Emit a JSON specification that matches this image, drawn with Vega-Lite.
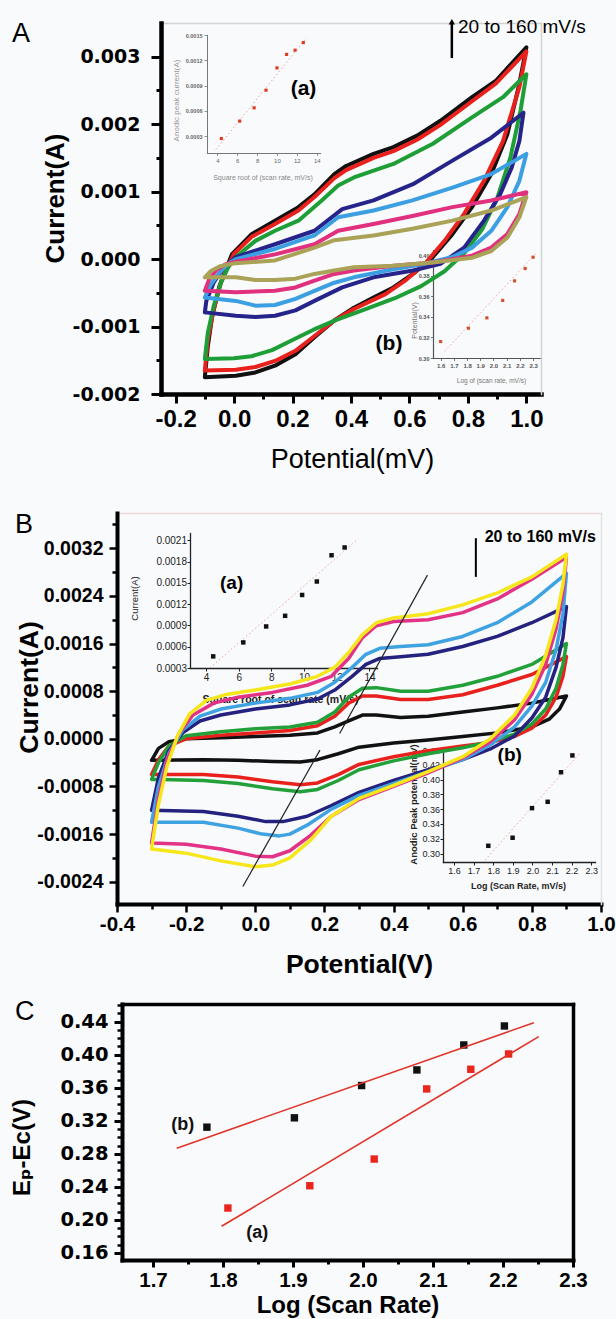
{
"$schema":"https://vega.github.io/schema/vega-lite/v6.json",
"width":616,"height":1319,"padding":0,"autosize":{"type":"none"},
"background":"#f9fafc",
"config":{"view":{"stroke":null},"font":"Liberation Sans",
 "axis":{"grid":false,"labelFlush":false,"labelOverlap":false,"domainCap":"square","domainColor":"#000","tickColor":"#000","labelColor":"#000","titleColor":"#000","labelFont":"Liberation Sans","titleFont":"Liberation Sans","titleBaseline":"alphabetic","titleAlign":"center","labelFontWeight":"normal","titleFontWeight":"bold"}},
"datasets":{
"cvA":[
{"c":"k","x":-0.1,"y":-0.00175},{"c":"k","x":-0.09,"y":-0.0013},{"c":"k","x":-0.075,"y":-0.00085},{"c":"k","x":-0.05,"y":-0.0004},{"c":"k","x":-0.025,"y":-0.00012},{"c":"k","x":-0.007,"y":0.000075},{"c":"k","x":0.06,"y":0.00037},{"c":"k","x":0.14,"y":0.00057},{"c":"k","x":0.22,"y":0.00077},{"c":"k","x":0.275,"y":0.00096},{"c":"k","x":0.343,"y":0.00126},{"c":"k","x":0.383,"y":0.00138},{"c":"k","x":0.477,"y":0.00156},{"c":"k","x":0.545,"y":0.00166},{"c":"k","x":0.626,"y":0.00183},{"c":"k","x":0.706,"y":0.00205},{"c":"k","x":0.814,"y":0.0024},{"c":"k","x":0.895,"y":0.00264},{"c":"k","x":1.0,"y":0.00314},{"c":"k","x":0.976,"y":0.0026},{"c":"k","x":0.935,"y":0.00185},{"c":"k","x":0.88,"y":0.00126},{"c":"k","x":0.814,"y":0.00077},{"c":"k","x":0.747,"y":0.00037},{"c":"k","x":0.68,"y":0.00003},{"c":"k","x":0.612,"y":-0.00022},{"c":"k","x":0.545,"y":-0.00042},{"c":"k","x":0.477,"y":-0.00057},{"c":"k","x":0.41,"y":-0.00072},{"c":"k","x":0.343,"y":-0.00091},{"c":"k","x":0.275,"y":-0.00116},{"c":"k","x":0.21,"y":-0.00141},{"c":"k","x":0.14,"y":-0.00158},{"c":"k","x":0.073,"y":-0.00168},{"c":"k","x":0.006,"y":-0.00173},{"c":"k","x":-0.1,"y":-0.00175},
{"c":"r","x":-0.1,"y":-0.00165},{"c":"r","x":-0.09,"y":-0.0012},{"c":"r","x":-0.07,"y":-0.00075},{"c":"r","x":-0.045,"y":-0.00035},{"c":"r","x":-0.02,"y":-0.0001},{"c":"r","x":0.0,"y":0.00008},{"c":"r","x":0.06,"y":0.00033},{"c":"r","x":0.14,"y":0.00052},{"c":"r","x":0.22,"y":0.00072},{"c":"r","x":0.275,"y":0.00092},{"c":"r","x":0.343,"y":0.0012},{"c":"r","x":0.383,"y":0.00132},{"c":"r","x":0.477,"y":0.0015},{"c":"r","x":0.545,"y":0.0016},{"c":"r","x":0.626,"y":0.00177},{"c":"r","x":0.706,"y":0.00199},{"c":"r","x":0.814,"y":0.00234},{"c":"r","x":0.895,"y":0.0026},{"c":"r","x":1.0,"y":0.00308},{"c":"r","x":0.976,"y":0.00255},{"c":"r","x":0.92,"y":0.00175},{"c":"r","x":0.855,"y":0.00116},{"c":"r","x":0.787,"y":0.00067},{"c":"r","x":0.72,"y":0.00027},{"c":"r","x":0.653,"y":-0.00007},{"c":"r","x":0.585,"y":-0.00032},{"c":"r","x":0.518,"y":-0.00052},{"c":"r","x":0.41,"y":-0.00074},{"c":"r","x":0.343,"y":-0.00091},{"c":"r","x":0.275,"y":-0.00114},{"c":"r","x":0.21,"y":-0.00136},{"c":"r","x":0.14,"y":-0.00151},{"c":"r","x":0.073,"y":-0.0016},{"c":"r","x":0.006,"y":-0.00164},{"c":"r","x":-0.1,"y":-0.00165},
{"c":"g","x":-0.1,"y":-0.00148},{"c":"g","x":-0.09,"y":-0.0011},{"c":"g","x":-0.07,"y":-0.0007},{"c":"g","x":-0.045,"y":-0.00035},{"c":"g","x":-0.02,"y":-0.00012},{"c":"g","x":0.006,"y":0.00003},{"c":"g","x":0.073,"y":0.00027},{"c":"g","x":0.14,"y":0.00042},{"c":"g","x":0.22,"y":0.00057},{"c":"g","x":0.3,"y":0.00087},{"c":"g","x":0.356,"y":0.00109},{"c":"g","x":0.41,"y":0.00121},{"c":"g","x":0.545,"y":0.00141},{"c":"g","x":0.68,"y":0.00171},{"c":"g","x":0.814,"y":0.0021},{"c":"g","x":0.92,"y":0.0024},{"c":"g","x":1.0,"y":0.00274},{"c":"g","x":0.98,"y":0.0022},{"c":"g","x":0.945,"y":0.0015},{"c":"g","x":0.9,"y":0.0009},{"c":"g","x":0.85,"y":0.00045},{"c":"g","x":0.79,"y":0.0001},{"c":"g","x":0.72,"y":-0.00018},{"c":"g","x":0.64,"y":-0.0004},{"c":"g","x":0.55,"y":-0.00058},{"c":"g","x":0.45,"y":-0.00074},{"c":"g","x":0.35,"y":-0.0009},{"c":"g","x":0.27,"y":-0.00105},{"c":"g","x":0.2,"y":-0.0012},{"c":"g","x":0.13,"y":-0.00135},{"c":"g","x":0.06,"y":-0.00144},{"c":"g","x":0.0,"y":-0.00147},{"c":"g","x":-0.1,"y":-0.00148},
{"c":"n","x":-0.1,"y":-0.00079},{"c":"n","x":-0.095,"y":-0.00062},{"c":"n","x":-0.07,"y":-0.00035},{"c":"n","x":-0.04,"y":-0.00015},{"c":"n","x":0.006,"y":0.00003},{"c":"n","x":0.14,"y":0.00022},{"c":"n","x":0.275,"y":0.00042},{"c":"n","x":0.37,"y":0.00074},{"c":"n","x":0.477,"y":0.00087},{"c":"n","x":0.612,"y":0.00111},{"c":"n","x":0.747,"y":0.00146},{"c":"n","x":0.88,"y":0.0018},{"c":"n","x":0.99,"y":0.00217},{"c":"n","x":0.976,"y":0.00175},{"c":"n","x":0.95,"y":0.00136},{"c":"n","x":0.91,"y":0.00096},{"c":"n","x":0.855,"y":0.00057},{"c":"n","x":0.787,"y":0.00017},{"c":"n","x":0.706,"y":-0.00007},{"c":"n","x":0.612,"y":-0.00017},{"c":"n","x":0.477,"y":-0.00027},{"c":"n","x":0.37,"y":-0.00042},{"c":"n","x":0.275,"y":-0.00062},{"c":"n","x":0.21,"y":-0.00076},{"c":"n","x":0.14,"y":-0.00084},{"c":"n","x":0.073,"y":-0.00086},{"c":"n","x":0.006,"y":-0.00084},{"c":"n","x":-0.1,"y":-0.00079},
{"c":"lb","x":-0.1,"y":-0.00057},{"c":"lb","x":-0.08,"y":-0.00038},{"c":"lb","x":-0.05,"y":-0.0002},{"c":"lb","x":-0.02,"y":-0.00007},{"c":"lb","x":0.006,"y":0.0},{"c":"lb","x":0.14,"y":0.00015},{"c":"lb","x":0.275,"y":0.00035},{"c":"lb","x":0.356,"y":0.00062},{"c":"lb","x":0.477,"y":0.00072},{"c":"lb","x":0.61,"y":0.00087},{"c":"lb","x":0.747,"y":0.00106},{"c":"lb","x":0.88,"y":0.00126},{"c":"lb","x":1.0,"y":0.00156},{"c":"lb","x":0.976,"y":0.00116},{"c":"lb","x":0.935,"y":0.00077},{"c":"lb","x":0.88,"y":0.00042},{"c":"lb","x":0.814,"y":0.00017},{"c":"lb","x":0.747,"y":0.00003},{"c":"lb","x":0.653,"y":-0.00007},{"c":"lb","x":0.545,"y":-0.00015},{"c":"lb","x":0.41,"y":-0.00027},{"c":"lb","x":0.343,"y":-0.00035},{"c":"lb","x":0.275,"y":-0.00047},{"c":"lb","x":0.21,"y":-0.00059},{"c":"lb","x":0.14,"y":-0.00068},{"c":"lb","x":0.073,"y":-0.00069},{"c":"lb","x":0.006,"y":-0.00062},{"c":"lb","x":-0.1,"y":-0.00057},
{"c":"m","x":-0.1,"y":-0.00047},{"c":"m","x":-0.085,"y":-0.0003},{"c":"m","x":-0.06,"y":-0.00016},{"c":"m","x":-0.03,"y":-0.00008},{"c":"m","x":0.006,"y":-0.00004},{"c":"m","x":0.14,"y":0.00007},{"c":"m","x":0.275,"y":0.00022},{"c":"m","x":0.356,"y":0.00042},{"c":"m","x":0.477,"y":0.00052},{"c":"m","x":0.61,"y":0.00064},{"c":"m","x":0.747,"y":0.00077},{"c":"m","x":0.88,"y":0.00087},{"c":"m","x":1.0,"y":0.00099},{"c":"m","x":0.976,"y":0.00067},{"c":"m","x":0.935,"y":0.00037},{"c":"m","x":0.88,"y":0.00017},{"c":"m","x":0.814,"y":0.00005},{"c":"m","x":0.68,"y":-0.00005},{"c":"m","x":0.545,"y":-0.0001},{"c":"m","x":0.41,"y":-0.00017},{"c":"m","x":0.343,"y":-0.00022},{"c":"m","x":0.275,"y":-0.00032},{"c":"m","x":0.21,"y":-0.00042},{"c":"m","x":0.14,"y":-0.00047},{"c":"m","x":0.006,"y":-0.00049},{"c":"m","x":-0.1,"y":-0.00047},
{"c":"ol","x":-0.1,"y":-0.00027},{"c":"ol","x":-0.08,"y":-0.00018},{"c":"ol","x":-0.05,"y":-0.00011},{"c":"ol","x":-0.02,"y":-0.00008},{"c":"ol","x":0.006,"y":-0.00006},{"c":"ol","x":0.14,"y":-0.00002},{"c":"ol","x":0.275,"y":0.00017},{"c":"ol","x":0.343,"y":0.00028},{"c":"ol","x":0.477,"y":0.00035},{"c":"ol","x":0.61,"y":0.00045},{"c":"ol","x":0.747,"y":0.00057},{"c":"ol","x":0.88,"y":0.00072},{"c":"ol","x":1.0,"y":0.00092},{"c":"ol","x":0.976,"y":0.00062},{"c":"ol","x":0.935,"y":0.00032},{"c":"ol","x":0.88,"y":0.00012},{"c":"ol","x":0.814,"y":0.00002},{"c":"ol","x":0.68,"y":-0.00005},{"c":"ol","x":0.545,"y":-0.0001},{"c":"ol","x":0.41,"y":-0.00012},{"c":"ol","x":0.343,"y":-0.00017},{"c":"ol","x":0.275,"y":-0.00022},{"c":"ol","x":0.21,"y":-0.00029},{"c":"ol","x":0.14,"y":-0.00031},{"c":"ol","x":0.073,"y":-0.00031},{"c":"ol","x":0.006,"y":-0.00027},{"c":"ol","x":-0.1,"y":-0.00027}
],
"cvB":[
{"c":"k","x":-0.3,"y":-0.00036},{"c":"k","x":-0.28,"y":-0.00016},{"c":"k","x":-0.25,"y":-0.00005},{"c":"k","x":-0.2,"y":0.0},{"c":"k","x":-0.1,"y":0.00002},{"c":"k","x":0.0,"y":0.00004},{"c":"k","x":0.1,"y":0.00006},{"c":"k","x":0.18,"y":0.0001},{"c":"k","x":0.23,"y":0.0002},{"c":"k","x":0.27,"y":0.0003},{"c":"k","x":0.31,"y":0.0004},{"c":"k","x":0.35,"y":0.0004},{"c":"k","x":0.42,"y":0.00036},{"c":"k","x":0.5,"y":0.00038},{"c":"k","x":0.6,"y":0.00045},{"c":"k","x":0.7,"y":0.00052},{"c":"k","x":0.8,"y":0.0006},{"c":"k","x":0.9,"y":0.00072},{"c":"k","x":0.88,"y":0.0005},{"c":"k","x":0.85,"y":0.00033},{"c":"k","x":0.8,"y":0.0002},{"c":"k","x":0.7,"y":0.0001},{"c":"k","x":0.6,"y":0.00004},{"c":"k","x":0.5,"y":-0.00002},{"c":"k","x":0.4,"y":-0.00007},{"c":"k","x":0.3,"y":-0.00014},{"c":"k","x":0.24,"y":-0.00025},{"c":"k","x":0.18,"y":-0.00035},{"c":"k","x":0.13,"y":-0.00039},{"c":"k","x":0.05,"y":-0.00038},{"c":"k","x":-0.05,"y":-0.00036},{"c":"k","x":-0.15,"y":-0.00035},{"c":"k","x":-0.3,"y":-0.00036},
{"c":"r","x":-0.3,"y":-0.0006},{"c":"r","x":-0.28,"y":-0.00035},{"c":"r","x":-0.25,"y":-0.00012},{"c":"r","x":-0.2,"y":0.0},{"c":"r","x":-0.1,"y":0.00006},{"c":"r","x":0.0,"y":0.0001},{"c":"r","x":0.1,"y":0.00014},{"c":"r","x":0.18,"y":0.00022},{"c":"r","x":0.23,"y":0.00038},{"c":"r","x":0.27,"y":0.0006},{"c":"r","x":0.31,"y":0.00072},{"c":"r","x":0.35,"y":0.00072},{"c":"r","x":0.42,"y":0.00066},{"c":"r","x":0.5,"y":0.00066},{"c":"r","x":0.6,"y":0.00074},{"c":"r","x":0.7,"y":0.0009},{"c":"r","x":0.8,"y":0.00108},{"c":"r","x":0.9,"y":0.00138},{"c":"r","x":0.89,"y":0.00105},{"c":"r","x":0.87,"y":0.0007},{"c":"r","x":0.84,"y":0.0004},{"c":"r","x":0.8,"y":0.00018},{"c":"r","x":0.75,"y":0.00004},{"c":"r","x":0.68,"y":-0.00006},{"c":"r","x":0.6,"y":-0.00012},{"c":"r","x":0.5,"y":-0.0002},{"c":"r","x":0.4,"y":-0.0003},{"c":"r","x":0.3,"y":-0.00043},{"c":"r","x":0.24,"y":-0.0006},{"c":"r","x":0.18,"y":-0.00074},{"c":"r","x":0.13,"y":-0.00077},{"c":"r","x":0.05,"y":-0.00072},{"c":"r","x":-0.05,"y":-0.00064},{"c":"r","x":-0.15,"y":-0.0006},{"c":"r","x":-0.3,"y":-0.0006},
{"c":"g","x":-0.3,"y":-0.00068},{"c":"g","x":-0.28,"y":-0.0004},{"c":"g","x":-0.25,"y":-0.00012},{"c":"g","x":-0.2,"y":0.00005},{"c":"g","x":-0.1,"y":0.00012},{"c":"g","x":0.0,"y":0.00017},{"c":"g","x":0.1,"y":0.0002},{"c":"g","x":0.18,"y":0.00028},{"c":"g","x":0.23,"y":0.00045},{"c":"g","x":0.27,"y":0.0007},{"c":"g","x":0.31,"y":0.00085},{"c":"g","x":0.35,"y":0.00086},{"c":"g","x":0.42,"y":0.0008},{"c":"g","x":0.5,"y":0.0008},{"c":"g","x":0.6,"y":0.0009},{"c":"g","x":0.7,"y":0.00105},{"c":"g","x":0.8,"y":0.00125},{"c":"g","x":0.9,"y":0.0016},{"c":"g","x":0.89,"y":0.00125},{"c":"g","x":0.87,"y":0.00085},{"c":"g","x":0.84,"y":0.0005},{"c":"g","x":0.8,"y":0.00025},{"c":"g","x":0.75,"y":0.00008},{"c":"g","x":0.68,"y":-0.00005},{"c":"g","x":0.6,"y":-0.00015},{"c":"g","x":0.5,"y":-0.00025},{"c":"g","x":0.4,"y":-0.00037},{"c":"g","x":0.3,"y":-0.00052},{"c":"g","x":0.24,"y":-0.0007},{"c":"g","x":0.18,"y":-0.00085},{"c":"g","x":0.13,"y":-0.00089},{"c":"g","x":0.05,"y":-0.00084},{"c":"g","x":-0.05,"y":-0.00075},{"c":"g","x":-0.15,"y":-0.0007},{"c":"g","x":-0.3,"y":-0.00068},
{"c":"n","x":-0.3,"y":-0.0012},{"c":"n","x":-0.28,"y":-0.00065},{"c":"n","x":-0.25,"y":-0.0002},{"c":"n","x":-0.21,"y":0.0001},{"c":"n","x":-0.16,"y":0.0003},{"c":"n","x":-0.1,"y":0.0004},{"c":"n","x":0.0,"y":0.0005},{"c":"n","x":0.1,"y":0.00057},{"c":"n","x":0.18,"y":0.00067},{"c":"n","x":0.23,"y":0.00082},{"c":"n","x":0.28,"y":0.00105},{"c":"n","x":0.32,"y":0.00125},{"c":"n","x":0.36,"y":0.00135},{"c":"n","x":0.42,"y":0.00138},{"c":"n","x":0.5,"y":0.00142},{"c":"n","x":0.6,"y":0.00155},{"c":"n","x":0.7,"y":0.00172},{"c":"n","x":0.8,"y":0.00195},{"c":"n","x":0.9,"y":0.00222},{"c":"n","x":0.89,"y":0.0017},{"c":"n","x":0.87,"y":0.0012},{"c":"n","x":0.84,"y":0.0007},{"c":"n","x":0.8,"y":0.00035},{"c":"n","x":0.75,"y":0.00005},{"c":"n","x":0.68,"y":-0.00017},{"c":"n","x":0.6,"y":-0.00035},{"c":"n","x":0.5,"y":-0.00052},{"c":"n","x":0.4,"y":-0.0007},{"c":"n","x":0.3,"y":-0.0009},{"c":"n","x":0.22,"y":-0.00112},{"c":"n","x":0.15,"y":-0.0013},{"c":"n","x":0.08,"y":-0.00139},{"c":"n","x":0.03,"y":-0.00139},{"c":"n","x":-0.05,"y":-0.0013},{"c":"n","x":-0.15,"y":-0.00122},{"c":"n","x":-0.3,"y":-0.0012},
{"c":"lb","x":-0.3,"y":-0.0014},{"c":"lb","x":-0.28,"y":-0.0008},{"c":"lb","x":-0.25,"y":-0.00025},{"c":"lb","x":-0.21,"y":0.00015},{"c":"lb","x":-0.16,"y":0.00038},{"c":"lb","x":-0.1,"y":0.0005},{"c":"lb","x":0.0,"y":0.0006},{"c":"lb","x":0.1,"y":0.00068},{"c":"lb","x":0.18,"y":0.00078},{"c":"lb","x":0.23,"y":0.00095},{"c":"lb","x":0.28,"y":0.0012},{"c":"lb","x":0.32,"y":0.00142},{"c":"lb","x":0.36,"y":0.00152},{"c":"lb","x":0.42,"y":0.00155},{"c":"lb","x":0.5,"y":0.00158},{"c":"lb","x":0.6,"y":0.00172},{"c":"lb","x":0.7,"y":0.00195},{"c":"lb","x":0.8,"y":0.0023},{"c":"lb","x":0.9,"y":0.00278},{"c":"lb","x":0.89,"y":0.0021},{"c":"lb","x":0.87,"y":0.0015},{"c":"lb","x":0.84,"y":0.00095},{"c":"lb","x":0.8,"y":0.00055},{"c":"lb","x":0.75,"y":0.0002},{"c":"lb","x":0.68,"y":-0.0001},{"c":"lb","x":0.6,"y":-0.00035},{"c":"lb","x":0.5,"y":-0.00055},{"c":"lb","x":0.4,"y":-0.00075},{"c":"lb","x":0.3,"y":-0.00095},{"c":"lb","x":0.22,"y":-0.00118},{"c":"lb","x":0.15,"y":-0.00145},{"c":"lb","x":0.1,"y":-0.0016},{"c":"lb","x":0.07,"y":-0.00163},{"c":"lb","x":0.02,"y":-0.0016},{"c":"lb","x":-0.05,"y":-0.0015},{"c":"lb","x":-0.15,"y":-0.0014},{"c":"lb","x":-0.3,"y":-0.0014},
{"c":"m","x":-0.3,"y":-0.00175},{"c":"m","x":-0.28,"y":-0.001},{"c":"m","x":-0.255,"y":-0.00035},{"c":"m","x":-0.22,"y":0.0001},{"c":"m","x":-0.18,"y":0.0004},{"c":"m","x":-0.12,"y":0.0006},{"c":"m","x":-0.05,"y":0.0007},{"c":"m","x":0.05,"y":0.00078},{"c":"m","x":0.15,"y":0.0009},{"c":"m","x":0.22,"y":0.00105},{"c":"m","x":0.27,"y":0.00135},{"c":"m","x":0.31,"y":0.0017},{"c":"m","x":0.35,"y":0.0019},{"c":"m","x":0.4,"y":0.00197},{"c":"m","x":0.5,"y":0.002},{"c":"m","x":0.6,"y":0.00212},{"c":"m","x":0.7,"y":0.00235},{"c":"m","x":0.8,"y":0.00268},{"c":"m","x":0.9,"y":0.00305},{"c":"m","x":0.89,"y":0.00245},{"c":"m","x":0.87,"y":0.00185},{"c":"m","x":0.84,"y":0.00125},{"c":"m","x":0.8,"y":0.00075},{"c":"m","x":0.75,"y":0.00032},{"c":"m","x":0.68,"y":-0.00005},{"c":"m","x":0.6,"y":-0.00032},{"c":"m","x":0.5,"y":-0.00057},{"c":"m","x":0.4,"y":-0.0008},{"c":"m","x":0.3,"y":-0.00102},{"c":"m","x":0.22,"y":-0.0013},{"c":"m","x":0.16,"y":-0.00162},{"c":"m","x":0.1,"y":-0.00188},{"c":"m","x":0.05,"y":-0.00198},{"c":"m","x":0.0,"y":-0.00197},{"c":"m","x":-0.1,"y":-0.00185},{"c":"m","x":-0.2,"y":-0.00177},{"c":"m","x":-0.3,"y":-0.00175},
{"c":"y","x":-0.3,"y":-0.00185},{"c":"y","x":-0.28,"y":-0.0011},{"c":"y","x":-0.255,"y":-0.00045},{"c":"y","x":-0.225,"y":0.00005},{"c":"y","x":-0.19,"y":0.00042},{"c":"y","x":-0.14,"y":0.00065},{"c":"y","x":-0.08,"y":0.00075},{"c":"y","x":0.0,"y":0.00082},{"c":"y","x":0.1,"y":0.00092},{"c":"y","x":0.18,"y":0.00105},{"c":"y","x":0.23,"y":0.0012},{"c":"y","x":0.27,"y":0.00145},{"c":"y","x":0.31,"y":0.00175},{"c":"y","x":0.35,"y":0.00195},{"c":"y","x":0.4,"y":0.00203},{"c":"y","x":0.5,"y":0.0021},{"c":"y","x":0.6,"y":0.00225},{"c":"y","x":0.7,"y":0.00245},{"c":"y","x":0.8,"y":0.00272},{"c":"y","x":0.9,"y":0.0031},{"c":"y","x":0.89,"y":0.0026},{"c":"y","x":0.87,"y":0.002},{"c":"y","x":0.84,"y":0.0014},{"c":"y","x":0.8,"y":0.00085},{"c":"y","x":0.75,"y":0.0004},{"c":"y","x":0.68,"y":0.0},{"c":"y","x":0.6,"y":-0.0003},{"c":"y","x":0.5,"y":-0.00055},{"c":"y","x":0.4,"y":-0.00078},{"c":"y","x":0.3,"y":-0.001},{"c":"y","x":0.22,"y":-0.0013},{"c":"y","x":0.16,"y":-0.0017},{"c":"y","x":0.1,"y":-0.002},{"c":"y","x":0.05,"y":-0.00212},{"c":"y","x":0.0,"y":-0.00215},{"c":"y","x":-0.1,"y":-0.00205},{"c":"y","x":-0.2,"y":-0.00192},{"c":"y","x":-0.3,"y":-0.00185}
],
"labA":[{"t":"(a)","x":0.2375,"y":0.00252},{"t":"(b)","x":0.53,"y":-0.001263}],
"rateA":[{"t":"20 to 160 mV/s","x":0.766,"y":0.00344}],
"letA":[{"t":"A","x":-0.7598,"y":0.003218}],
"arrA":[{"x":0.745,"y":0.00298,"y2":0.0035}],
"headA":[{"x":0.745,"y":0.00352}],
"insAa":[{"x":4.4,"y":0.000272},{"x":6.25,"y":0.000478},{"x":7.7,"y":0.000636},{"x":8.9,"y":0.000845},{"x":10.0,"y":0.00111},{"x":10.97,"y":0.00127},{"x":11.82,"y":0.00132},{"x":12.65,"y":0.00141}],
"fitAa":[{"x":3.85,"y":0.00014},{"x":13.0,"y":0.00147}],
"insAb":[{"x":1.6,"y":0.316},{"x":1.81,"y":0.329},{"x":1.95,"y":0.339},{"x":2.07,"y":0.356},{"x":2.16,"y":0.375},{"x":2.24,"y":0.387},{"x":2.3,"y":0.398}],
"fitAb":[{"x":1.63,"y":0.3065},{"x":2.32,"y":0.4016}],
"labB":[{"t":"(a)","x":-0.0685,"y":0.002623},{"t":"(b)","x":0.736,"y":-0.00027}],
"rateB":[{"t":"20 to 160 mV/s","x":0.6636,"y":0.003395}],
"letB":[{"t":"B","x":-0.6948,"y":0.003457}],
"vlB":[{"x":0.638,"y":0.00272,"y2":0.00337}],
"slB":[{"x":-0.036,"y":-0.00248,"x2":0.187,"y2":-0.00019},{"x":0.244,"y":0.00009,"x2":0.498,"y2":0.00275}],
"insBa":[{"x":4.44,"y":0.000464},{"x":6.28,"y":0.000661},{"x":7.68,"y":0.000886},{"x":8.84,"y":0.001036},{"x":9.88,"y":0.00133},{"x":10.78,"y":0.00152},{"x":11.68,"y":0.00189},{"x":12.48,"y":0.002}],
"fitBa":[{"x":4.24,"y":0.0003},{"x":13.3,"y":0.00212}],
"insBb":[{"x":1.775,"y":0.3105},{"x":1.899,"y":0.3214},{"x":1.998,"y":0.3614},{"x":2.078,"y":0.37},{"x":2.146,"y":0.41},{"x":2.204,"y":0.4327}],
"fitBb":[{"x":1.758,"y":0.291},{"x":2.243,"y":0.436}],
"ptsC":[{"s":"b","x":1.777,"y":0.3123},{"s":"b","x":1.902,"y":0.3236},{"s":"b","x":1.998,"y":0.3627},{"s":"b","x":2.077,"y":0.3816},{"s":"b","x":2.144,"y":0.4118},{"s":"b","x":2.202,"y":0.4348},{"s":"a","x":1.807,"y":0.2144},{"s":"a","x":1.924,"y":0.2414},{"s":"a","x":2.016,"y":0.2737},{"s":"a","x":2.091,"y":0.3586},{"s":"a","x":2.154,"y":0.3824},{"s":"a","x":2.208,"y":0.4009}],
"fitC":[{"s":"a","x":1.798,"y":0.1923,"x2":2.251,"y2":0.4219},{"s":"b","x":1.734,"y":0.2869,"x2":2.244,"y2":0.4388}],
"labC":[{"t":"(b)","x":1.7424,"y":0.3149},{"t":"(a)","x":1.849,"y":0.184}],
"letC":[{"t":"C","x":1.5029,"y":0.442}]
},
"layer":[
{"layer":[
 {"data":{"name":"cvA"},"mark":{"type":"line","strokeWidth":4,"strokeJoin":"round","strokeCap":"round"},
  "encoding":{
   "x":{"field":"x","type":"quantitative","scale":{"domain":[-0.25,1.05],"range":[161,541],"nice":false,"zero":false},
     "axis":{"orient":"bottom","offset":-925,"values":[-0.2,0,0.2,0.4,0.6,0.8,1],"labelExpr":"(datum.value<0?'-':'')+format(abs(datum.value),'.1f')","domainWidth":4.5,"tickWidth":3,"tickSize":9,"labelFontWeight":"bold","labelFontSize":24,"labelPadding":4,"title":"Potential(mV)","titleFontWeight":"normal","titleFontSize":27,"titleX":352,"titleY":73}},
   "y":{"field":"y","type":"quantitative","scale":{"domain":[-0.002,0.0035],"range":[394,23],"nice":false,"zero":false},
     "axis":{"orient":"left","offset":-161,"values":[-0.002,-0.001,0,0.001,0.002,0.003],"labelExpr":"(datum.value<0?'-':'')+format(abs(datum.value),'.3f')","domainWidth":4.5,"tickWidth":3,"tickSize":10,"labelFont":"DejaVu Sans","labelFontWeight":"bold","labelFontSize":19,"labelPadding":11,"title":"Current(A)","titleFontSize":26,"titleX":-98,"titleY":198,"titleAngle":270}},
   "color":{"field":"c","type":"nominal","scale":{"domain":["k","r","g","n","lb","m","ol"],"range":["#111111","#e8211d","#1e9e36","#26248a","#3b9fe2","#e0307e","#a9a257"]},"legend":null},
   "order":{"value":null}}},
 {"data":{"name":"labA"},"mark":{"type":"text","fontWeight":"bold","fontSize":21,"color":"#000"},
  "encoding":{
   "x":{"field":"x","type":"quantitative","scale":{"domain":[-0.25,1.05],"range":[161,541],"nice":false,"zero":false},
     "axis":{"orient":"bottom","offset":-925,"values":[-0.1,0.1,0.3,0.5,0.7,0.9],"labels":false,"domain":false,"tickWidth":3,"tickSize":5,"title":null}},
   "y":{"field":"y","type":"quantitative","scale":{"domain":[-0.002,0.0035],"range":[394,23],"nice":false,"zero":false},
     "axis":{"orient":"left","offset":-161,"values":[-0.0015,-0.0005,0.0005,0.0015,0.0025],"labels":false,"domain":false,"tickWidth":3,"tickSize":5,"title":null}},
   "text":{"field":"t"}}},
 {"data":{"name":"rateA"},"mark":{"type":"text","align":"left","fontSize":19,"color":"#000"},
  "encoding":{
   "x":{"field":"x","type":"quantitative","scale":{"domain":[-0.25,1.05],"range":[161,541],"nice":false,"zero":false},
     "axis":{"orient":"top","offset":-23,"ticks":false,"labels":false,"domainColor":"#d2d2d2","domainWidth":1.5,"title":null}},
   "y":{"field":"y","type":"quantitative","scale":{"domain":[-0.002,0.0035],"range":[394,23],"nice":false,"zero":false},
     "axis":{"orient":"right","offset":-75,"ticks":false,"labels":false,"domainColor":"#d2d2d2","domainWidth":1.5,"title":null}},
   "text":{"field":"t"}}},
 {"data":{"name":"letA"},"mark":{"type":"text","align":"left","baseline":"alphabetic","fontSize":27,"color":"#000"},
  "encoding":{
   "x":{"field":"x","type":"quantitative","scale":{"domain":[-0.25,1.05],"range":[161,541],"nice":false,"zero":false},"axis":null},
   "y":{"field":"y","type":"quantitative","scale":{"domain":[-0.002,0.0035],"range":[394,23],"nice":false,"zero":false},"axis":null},
   "text":{"field":"t"}}},
 {"data":{"name":"arrA"},"mark":{"type":"rule","strokeWidth":2.5,"color":"#000"},
  "encoding":{
   "x":{"field":"x","type":"quantitative","scale":{"domain":[-0.25,1.05],"range":[161,541],"nice":false,"zero":false},"axis":null},
   "y":{"field":"y","type":"quantitative","scale":{"domain":[-0.002,0.0035],"range":[394,23],"nice":false,"zero":false},"axis":null},
   "y2":{"field":"y2"}}},
 {"data":{"name":"headA"},"mark":{"type":"point","shape":"triangle-up","filled":true,"size":40,"color":"#000","opacity":1},
  "encoding":{
   "x":{"field":"x","type":"quantitative","scale":{"domain":[-0.25,1.05],"range":[161,541],"nice":false,"zero":false},"axis":null},
   "y":{"field":"y","type":"quantitative","scale":{"domain":[-0.002,0.0035],"range":[394,23],"nice":false,"zero":false},"axis":null}}}
 ],
 "resolve":{"axis":{"x":"independent","y":"independent"}}},
{"layer":[
 {"data":{"name":"fitAa"},"mark":{"type":"line","strokeWidth":1,"strokeDash":[1.5,2.5],"color":"#f2a0a0"},
  "encoding":{
   "x":{"field":"x","type":"quantitative","scale":{"domain":[2.96,14.33],"range":[207,320],"nice":false,"zero":false},
     "axis":{"orient":"bottom","offset":-1166,"values":[4,6,8,10,12,14],"format":"d","labelFontSize":6,"labelColor":"#666","tickColor":"#777","tickWidth":0.8,"tickSize":2.5,"domainColor":"#777","domainWidth":1,"labelPadding":1.5,"title":"Square root of (scan rate, mV/s)","titleFontSize":7,"titleFontWeight":"normal","titleColor":"#888","titleX":262.5,"titleY":26.5}},
   "y":{"field":"y","type":"quantitative","scale":{"domain":[0.0001,0.0015],"range":[153,35],"nice":false,"zero":false},
     "axis":{"orient":"left","offset":-207,"values":[0.0003,0.0006,0.0009,0.0012,0.0015],"format":".4f","labelFontSize":5.5,"labelFontWeight":"bold","labelColor":"#666","tickColor":"#777","tickWidth":0.8,"tickSize":3,"domainColor":"#777","domainWidth":1,"labelPadding":2,"title":"Anodic peak current(A)","titleFontSize":8,"titleFontWeight":"normal","titleColor":"#999","titleX":-29,"titleY":100,"titleAngle":270}}}},
 {"data":{"name":"insAa"},"mark":{"type":"square","size":10,"color":"#e03a22","opacity":1},
  "encoding":{
   "x":{"field":"x","type":"quantitative","scale":{"domain":[2.96,14.33],"range":[207,320],"nice":false,"zero":false},"axis":null},
   "y":{"field":"y","type":"quantitative","scale":{"domain":[0.0001,0.0015],"range":[153,35],"nice":false,"zero":false},"axis":null}}}
 ],
 "resolve":{"axis":{"x":"independent","y":"independent"}}},
{"layer":[
 {"data":{"name":"fitAb"},"mark":{"type":"line","strokeWidth":1,"strokeDash":[1.5,2.5],"color":"#f2a0a0"},
  "encoding":{
   "x":{"field":"x","type":"quantitative","scale":{"domain":[1.542,2.36],"range":[433,541],"nice":false,"zero":false},
     "axis":{"orient":"bottom","offset":-961,"values":[1.6,1.7,1.8,1.9,2.0,2.1,2.2,2.3],"format":".1f","labelFontSize":6,"labelFontWeight":"bold","labelColor":"#555","tickColor":"#555","tickWidth":0.8,"tickSize":2.5,"domainColor":"#555","domainWidth":1.2,"labelPadding":1.5,"title":"Log of (scan rate, mV/s)","titleFontSize":6.5,"titleFontWeight":"normal","titleColor":"#777","titleX":491,"titleY":24}},
   "y":{"field":"y","type":"quantitative","scale":{"domain":[0.3,0.405],"range":[358,250],"nice":false,"zero":false},
     "axis":{"orient":"left","offset":-433,"values":[0.3,0.32,0.34,0.36,0.38,0.4],"format":".2f","labelFontSize":5.5,"labelFontWeight":"bold","labelColor":"#555","tickColor":"#555","tickWidth":0.8,"tickSize":2.5,"domainColor":"#555","domainWidth":1.2,"labelPadding":1.5,"title":"Potential(V)","titleFontSize":7,"titleFontWeight":"normal","titleColor":"#777","titleX":-17,"titleY":320,"titleAngle":270}}}},
 {"data":{"name":"insAb"},"mark":{"type":"square","size":10,"color":"#d2502a","opacity":1},
  "encoding":{
   "x":{"field":"x","type":"quantitative","scale":{"domain":[1.542,2.36],"range":[433,541],"nice":false,"zero":false},"axis":null},
   "y":{"field":"y","type":"quantitative","scale":{"domain":[0.3,0.405],"range":[358,250],"nice":false,"zero":false},"axis":null}}}
 ],
 "resolve":{"axis":{"x":"independent","y":"independent"}}},
{"layer":[
 {"data":{"name":"cvB"},"mark":{"type":"line","strokeWidth":3.5,"strokeJoin":"round","strokeCap":"round"},
  "encoding":{
   "x":{"field":"x","type":"quantitative","scale":{"domain":[-0.4,1.0],"range":[117,601],"nice":false,"zero":false},
     "axis":{"orient":"bottom","offset":-415,"values":[-0.4,-0.2,0,0.2,0.4,0.6,0.8,1.0],"labelExpr":"(datum.value<0?'-':'')+format(abs(datum.value),'.1f')","domainWidth":4,"tickWidth":2.5,"tickSize":8,"labelFontWeight":"bold","labelFontSize":20.5,"labelPadding":2,"title":"Potential(V)","titleFontSize":26.5,"titleX":359,"titleY":68}},
   "y":{"field":"y","type":"quantitative","scale":{"domain":[-0.002774,0.003793],"range":[904,513],"nice":false,"zero":false},
     "axis":{"orient":"left","offset":-117,"values":[-0.0024,-0.0016,-0.0008,0,0.0008,0.0016,0.0024,0.0032],"labelExpr":"(datum.value<0?'-':'')+format(abs(datum.value),'.4f')","domainWidth":4,"tickWidth":2.5,"tickSize":8,"labelFontWeight":"bold","labelFontSize":19.5,"labelPadding":6,"title":"Current(A)","titleFontSize":26.5,"titleX":-80,"titleY":687,"titleAngle":270}},
   "color":{"field":"c","type":"nominal","scale":{"domain":["k","r","g","n","lb","m","y"],"range":["#111111","#e8211d","#22a03a","#25217f","#3fa3e2","#e23387","#f6e61c"]},"legend":null},
   "order":{"value":null}}},
 {"data":{"name":"labB"},"mark":{"type":"text","fontWeight":"bold","fontSize":19,"color":"#000"},
  "encoding":{
   "x":{"field":"x","type":"quantitative","scale":{"domain":[-0.4,1.0],"range":[117,601],"nice":false,"zero":false},
     "axis":{"orient":"bottom","offset":-415,"values":[-0.3,-0.1,0.1,0.3,0.5,0.7,0.9],"labels":false,"domain":false,"tickWidth":2.5,"tickSize":5,"title":null}},
   "y":{"field":"y","type":"quantitative","scale":{"domain":[-0.002774,0.003793],"range":[904,513],"nice":false,"zero":false},
     "axis":{"orient":"left","offset":-117,"values":[-0.002,-0.0012,-0.0004,0.0004,0.0012,0.002,0.0028,0.0036],"labels":false,"domain":false,"tickWidth":2.5,"tickSize":5,"title":null}},
   "text":{"field":"t"}}},
 {"data":{"name":"rateB"},"mark":{"type":"text","align":"left","fontWeight":"bold","fontSize":16,"color":"#000"},
  "encoding":{
   "x":{"field":"x","type":"quantitative","scale":{"domain":[-0.4,1.0],"range":[117,601],"nice":false,"zero":false},
     "axis":{"orient":"top","offset":-513,"ticks":false,"labels":false,"domainColor":"#ead9d9","domainWidth":1.5,"title":null}},
   "y":{"field":"y","type":"quantitative","scale":{"domain":[-0.002774,0.003793],"range":[904,513],"nice":false,"zero":false},
     "axis":{"orient":"right","offset":-15,"ticks":false,"labels":false,"domainColor":"#e2e2e2","domainWidth":1.5,"title":null}},
   "text":{"field":"t"}}},
 {"data":{"name":"letB"},"mark":{"type":"text","align":"left","baseline":"alphabetic","fontSize":27,"color":"#000"},
  "encoding":{
   "x":{"field":"x","type":"quantitative","scale":{"domain":[-0.4,1.0],"range":[117,601],"nice":false,"zero":false},"axis":null},
   "y":{"field":"y","type":"quantitative","scale":{"domain":[-0.002774,0.003793],"range":[904,513],"nice":false,"zero":false},"axis":null},
   "text":{"field":"t"}}},
 {"data":{"name":"vlB"},"mark":{"type":"rule","strokeWidth":2,"color":"#000"},
  "encoding":{
   "x":{"field":"x","type":"quantitative","scale":{"domain":[-0.4,1.0],"range":[117,601],"nice":false,"zero":false},"axis":null},
   "y":{"field":"y","type":"quantitative","scale":{"domain":[-0.002774,0.003793],"range":[904,513],"nice":false,"zero":false},"axis":null},
   "y2":{"field":"y2"}}},
 {"data":{"name":"slB"},"mark":{"type":"rule","strokeWidth":1.2,"color":"#222"},
  "encoding":{
   "x":{"field":"x","type":"quantitative","scale":{"domain":[-0.4,1.0],"range":[117,601],"nice":false,"zero":false},"axis":null},
   "y":{"field":"y","type":"quantitative","scale":{"domain":[-0.002774,0.003793],"range":[904,513],"nice":false,"zero":false},"axis":null},
   "x2":{"field":"x2"},"y2":{"field":"y2"}}}
 ],
 "resolve":{"axis":{"x":"independent","y":"independent"}}},
{"layer":[
 {"data":{"name":"fitBa"},"mark":{"type":"line","strokeWidth":1,"strokeDash":[1.5,2.5],"color":"#f0a0a0"},
  "encoding":{
   "x":{"field":"x","type":"quantitative","scale":{"domain":[3.021,14.46],"range":[190,377],"nice":false,"zero":false},
     "axis":{"orient":"bottom","offset":-651,"values":[4,6,8,10,12,14],"format":"d","labelFontSize":10,"labelColor":"#222","tickColor":"#222","tickWidth":1,"tickSize":3,"domainColor":"#222","domainWidth":1.3,"labelPadding":1,"title":"Square root of scan rate (mV/s)","titleFontSize":10.5,"titleColor":"#222","titleX":280,"titleY":34}},
   "y":{"field":"y","type":"quantitative","scale":{"domain":[0.0003,0.002204],"range":[668,533],"nice":false,"zero":false},
     "axis":{"orient":"left","offset":-190,"values":[0.0003,0.0006,0.0009,0.0012,0.0015,0.0018,0.0021],"format":".4f","labelFontSize":10,"labelColor":"#222","tickColor":"#222","tickWidth":1,"tickSize":3,"domainColor":"#222","domainWidth":1.3,"labelPadding":0.5,"title":"Current(A)","titleFontSize":9.5,"titleFontWeight":"normal","titleColor":"#222","titleX":-53,"titleY":598,"titleAngle":270}}}},
 {"data":{"name":"insBa"},"mark":{"type":"square","size":20,"color":"#111","opacity":1},
  "encoding":{
   "x":{"field":"x","type":"quantitative","scale":{"domain":[3.021,14.46],"range":[190,377],"nice":false,"zero":false},"axis":null},
   "y":{"field":"y","type":"quantitative","scale":{"domain":[0.0003,0.002204],"range":[668,533],"nice":false,"zero":false},"axis":null}}}
 ],
 "resolve":{"axis":{"x":"independent","y":"independent"}}},
{"layer":[
 {"data":{"name":"fitBb"},"mark":{"type":"line","strokeWidth":1,"strokeDash":[1.5,2.5],"color":"#f0a0a0"},
  "encoding":{
   "x":{"field":"x","type":"quantitative","scale":{"domain":[1.5439,2.3194],"range":[443,595],"nice":false,"zero":false},
     "axis":{"orient":"bottom","offset":-457,"values":[1.6,1.7,1.8,1.9,2.0,2.1,2.2,2.3],"format":".1f","labelFontSize":9,"labelColor":"#222","tickColor":"#222","tickWidth":1,"tickSize":3,"domainColor":"#222","domainWidth":1.3,"labelPadding":1,"title":"Log (Scan Rate, mV/s)","titleFontSize":9,"titleColor":"#222","titleX":518,"titleY":26}},
   "y":{"field":"y","type":"quantitative","scale":{"domain":[0.2886,0.4441],"range":[862,747],"nice":false,"zero":false},
     "axis":{"orient":"left","offset":-443,"values":[0.3,0.32,0.34,0.36,0.38,0.4,0.42,0.44],"format":".2f","labelFontSize":9,"labelColor":"#222","tickColor":"#222","tickWidth":1,"tickSize":3,"domainColor":"#222","domainWidth":1.3,"labelPadding":0.5,"title":"Anodic Peak potential(mV)","titleFontSize":9.5,"titleColor":"#222","titleX":-27,"titleY":804,"titleAngle":270}}}},
 {"data":{"name":"insBb"},"mark":{"type":"square","size":20,"color":"#111","opacity":1},
  "encoding":{
   "x":{"field":"x","type":"quantitative","scale":{"domain":[1.5439,2.3194],"range":[443,595],"nice":false,"zero":false},"axis":null},
   "y":{"field":"y","type":"quantitative","scale":{"domain":[0.2886,0.4441],"range":[862,747],"nice":false,"zero":false},"axis":null}}}
 ],
 "resolve":{"axis":{"x":"independent","y":"independent"}}},
{"layer":[
 {"data":{"name":"ptsC"},"mark":{"type":"square","size":55,"opacity":1},
  "encoding":{
   "x":{"field":"x","type":"quantitative","scale":{"domain":[1.6557,2.3],"range":[122,573],"nice":false,"zero":false},
     "axis":{"orient":"bottom","offset":-59,"values":[1.7,1.8,1.9,2.0,2.1,2.2,2.3],"format":".1f","domainWidth":4,"tickWidth":3,"tickSize":7,"labelFontWeight":"bold","labelFontSize":20.5,"labelPadding":3,"title":"Log (Scan Rate)","titleFontSize":24,"titleX":347.5,"titleY":52}},
   "y":{"field":"y","type":"quantitative","scale":{"domain":[0.1515,0.4614],"range":[1260,1004],"nice":false,"zero":false},
     "axis":{"orient":"left","offset":-122,"values":[0.16,0.2,0.24,0.28,0.32,0.36,0.4,0.44],"format":".2f","domainWidth":4,"tickWidth":3,"tickSize":8,"labelFont":"DejaVu Sans","labelFontWeight":"bold","labelFontSize":19.5,"labelPadding":6,"title":"E\u209a-E\u1d04(V)","titleFont":"Liberation Sans, DejaVu Sans","titleFontSize":24,"titleX":-93,"titleY":1147,"titleAngle":270}},
   "color":{"field":"s","type":"nominal","scale":{"domain":["a","b"],"range":["#e8261c","#111111"]},"legend":null}}},
 {"data":{"name":"fitC"},"mark":{"type":"rule","strokeWidth":1.6,"color":"#e0352a"},
  "encoding":{
   "x":{"field":"x","type":"quantitative","scale":{"domain":[1.6557,2.3],"range":[122,573],"nice":false,"zero":false},
     "axis":{"orient":"bottom","offset":-59,"values":[1.75,1.85,1.95,2.05,2.15,2.25],"labels":false,"domain":false,"tickWidth":3,"tickSize":4,"title":null}},
   "y":{"field":"y","type":"quantitative","scale":{"domain":[0.1515,0.4614],"range":[1260,1004],"nice":false,"zero":false},
     "axis":{"orient":"left","offset":-122,"values":[0.17,0.18,0.19,0.21,0.22,0.23,0.25,0.26,0.27,0.29,0.3,0.31,0.33,0.34,0.35,0.37,0.38,0.39,0.41,0.42,0.43,0.45,0.46],"labels":false,"domain":false,"tickWidth":2.5,"tickSize":5,"title":null}},
   "x2":{"field":"x2"},"y2":{"field":"y2"}}},
 {"data":{"name":"labC"},"mark":{"type":"text","fontWeight":"bold","fontSize":18,"color":"#111"},
  "encoding":{
   "x":{"field":"x","type":"quantitative","scale":{"domain":[1.6557,2.3],"range":[122,573],"nice":false,"zero":false},
     "axis":{"orient":"top","offset":-1004,"ticks":false,"labels":false,"domainWidth":3.5,"title":null}},
   "y":{"field":"y","type":"quantitative","scale":{"domain":[0.1515,0.4614],"range":[1260,1004],"nice":false,"zero":false},
     "axis":{"orient":"right","offset":-43,"ticks":false,"labels":false,"domainWidth":3.5,"title":null}},
   "text":{"field":"t"}}},
 {"data":{"name":"letC"},"mark":{"type":"text","align":"left","baseline":"alphabetic","fontSize":27,"color":"#000"},
  "encoding":{
   "x":{"field":"x","type":"quantitative","scale":{"domain":[1.6557,2.3],"range":[122,573],"nice":false,"zero":false},"axis":null},
   "y":{"field":"y","type":"quantitative","scale":{"domain":[0.1515,0.4614],"range":[1260,1004],"nice":false,"zero":false},"axis":null},
   "text":{"field":"t"}}}
 ],
 "resolve":{"axis":{"x":"independent","y":"independent"}}}
],
"resolve":{"scale":{"x":"independent","y":"independent","color":"independent"},"axis":{"x":"independent","y":"independent"}}
}
